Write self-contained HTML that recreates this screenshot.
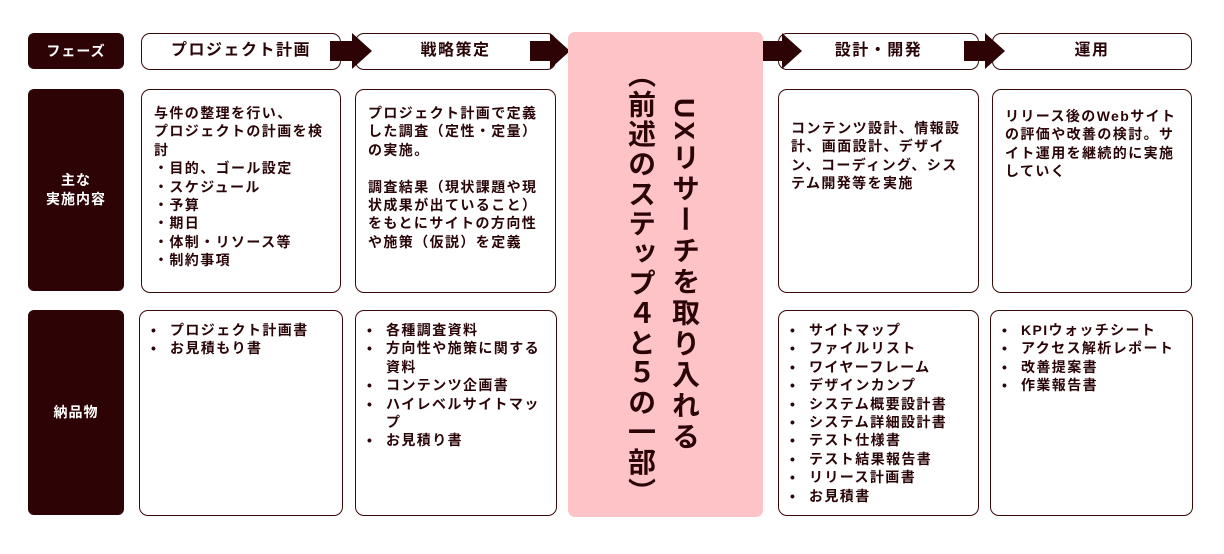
<!DOCTYPE html>
<html><head><meta charset="utf-8"><style>
*{margin:0;padding:0;box-sizing:border-box}
body{width:1224px;height:554px;background:#fff;position:relative;overflow:hidden;font-family:"Liberation Sans","Noto Sans CJK JP",sans-serif;font-weight:bold;color:#2a0508}
.a{position:absolute}
.lab{background:#2d0306;color:#fff;border-radius:6px;font-size:14px;letter-spacing:1px;display:flex;align-items:center;justify-content:center;text-align:center;line-height:19px}
.box{border:1px solid #3a0a0a;border-radius:9px;background:#fff;font-size:14px;letter-spacing:1.4px;line-height:18.4px}
.hd{display:flex;align-items:center;justify-content:center;font-size:16px;letter-spacing:1.5px}
.tx{padding:14px 8px 0 12px}
ul{list-style:none;padding:10px 6px 0 8px}
li{padding-left:22px;position:relative}
li:before{content:"•";position:absolute;left:3px}
</style></head><body>
<div class="a lab" style="left:28px;top:33px;width:96px;height:36px">フェーズ</div>
<div class="a lab" style="left:28px;top:89px;width:96px;height:202px">主な<br>実施内容</div>
<div class="a lab" style="left:28px;top:310px;width:96px;height:205px">納品物</div>

<div class="a box hd" style="left:141px;top:33px;width:200px;height:37px">プロジェクト計画</div>
<div class="a box hd" style="left:355px;top:33px;width:201px;height:37px">戦略策定</div>
<div class="a box hd" style="left:778px;top:33px;width:201px;height:37px">設計・開発</div>
<div class="a box hd" style="left:992px;top:33px;width:200px;height:37px">運用</div>

<svg class="a" style="left:0;top:0" width="1224" height="100">
<g fill="#2d0306">
<polygon points="330,41 352,41 352,33 372,51 352,69 352,61 330,61"/>
<polygon points="530,41 550,41 550,33 570,51 550,69 550,61 530,61"/>
<polygon points="762,41 782,41 782,33 802,51 782,69 782,61 762,61"/>
<polygon points="964,41 985,41 985,33 1005,51 985,69 985,61 964,61"/>
</g></svg>

<div class="a box tx" style="left:141px;top:89px;width:200px;height:204px">与件の整理を行い、<br>プロジェクトの計画を検討<br>・目的、ゴール設定<br>・スケジュール<br>・予算<br>・期日<br>・体制・リソース等<br>・制約事項</div>
<div class="a box tx" style="left:355px;top:89px;width:201px;height:204px">プロジェクト計画で定義した調査（定性・定量）の実施。<br><br>調査結果（現状課題や現状成果が出ていること）をもとにサイトの方向性や施策（仮説）を定義</div>
<div class="a box tx" style="left:778px;top:89px;width:201px;height:204px;padding-top:29px">コンテンツ設計、情報設計、画面設計、デザイン、コーディング、システム開発等を実施</div>
<div class="a box tx" style="left:992px;top:89px;width:200px;height:204px;padding-top:17px">リリース後のWebサイトの評価や改善の検討。サイト運用を継続的に実施していく</div>

<div class="a box" style="left:139px;top:310px;width:204px;height:206px"><ul><li>プロジェクト計画書</li><li>お見積もり書</li></ul></div>
<div class="a box" style="left:355px;top:310px;width:202px;height:206px"><ul><li>各種調査資料</li><li>方向性や施策に関する資料</li><li>コンテンツ企画書</li><li>ハイレベルサイトマップ</li><li>お見積り書</li></ul></div>
<div class="a box" style="left:778px;top:310px;width:201px;height:206px"><ul><li>サイトマップ</li><li>ファイルリスト</li><li>ワイヤーフレーム</li><li>デザインカンプ</li><li>システム概要設計書</li><li>システム詳細設計書</li><li>テスト仕様書</li><li>テスト結果報告書</li><li>リリース計画書</li><li>お見積書</li></ul></div>
<div class="a box" style="left:990px;top:310px;width:203px;height:206px"><ul><li>KPIウォッチシート</li><li>アクセス解析レポート</li><li>改善提案書</li><li>作業報告書</li></ul></div>

<div class="a" style="left:568px;top:32px;width:195px;height:485px;background:#fec3c6;border-radius:7px"></div>
<div class="a" style="left:666px;top:98px;writing-mode:vertical-rl;font-size:28px;line-height:36px;letter-spacing:3px;color:#2a0508">UXリサーチを取り入れる</div>
<div class="a" style="left:622px;top:60px;writing-mode:vertical-rl;font-size:28px;line-height:36px;letter-spacing:1.8px;color:#2a0508">（前述のステップ４と５の一部）</div>
</body></html>
